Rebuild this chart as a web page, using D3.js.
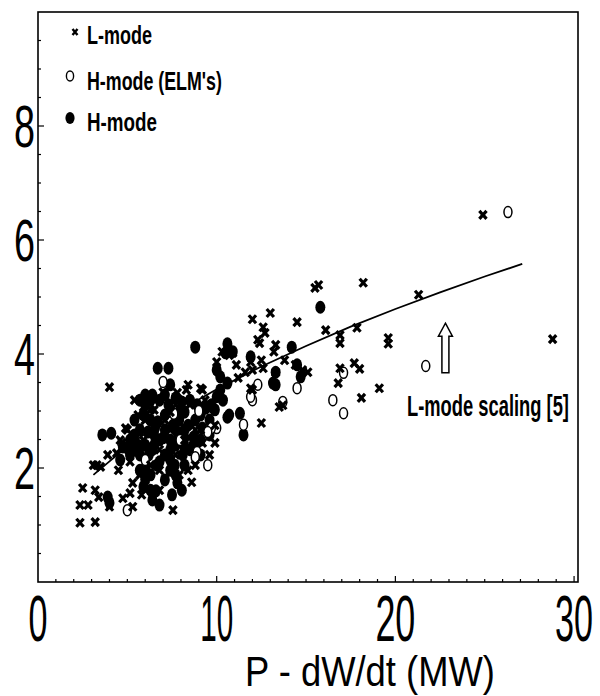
<!DOCTYPE html>
<html>
<head>
<meta charset="utf-8">
<script src="https://cdn.jsdelivr.net/npm/d3@7"></script>
<style>
    body { margin: 0; background: #fff; }
    text { font-family: "Liberation Sans Narrow", "Arial Narrow", "Liberation Sans", sans-serif; fill: #000; }
</style>
</head>
<body>
<svg width="600" height="696"></svg>
<script>
// L-mode points (x = P - dW/dt in MW, y = W)
var lModeX = [24.9, 28.8, 21.3, 18.2, 15.5, 15.7, 13.0, 12.0, 12.6, 12.7, 14.5, 16.1, 17.85, 16.9, 16.9, 19.6, 19.6,
    16.9, 16.8, 17.7, 18.0, 19.1, 18.1, 12.5, 13.7, 12.4, 12.3, 13.3, 13.2, 14.8, 15.1, 14.4, 14.8, 11.9, 12.0, 12.6,
    13.3, 11.9, 12.0, 11.2, 10.5, 10.7, 10.3, 10.9, 10.0, 11.1, 4.0, 5.9, 6.1, 7.0, 7.8, 8.3, 9.1, 9.2, 8.4, 4.9, 4.7,
    3.9, 4.4, 3.1, 3.3, 3.5, 4.5, 2.5, 3.2, 3.4, 2.8, 4.0, 2.35, 3.2, 5.3, 5.15, 4.75, 5.3, 7.55, 5.8, 8.4, 8.6, 9.2,
    9.9, 9.6, 4.6, 5.0, 5.9, 5.6, 6.0, 6.5, 7.1, 7.7, 8.5, 9.35, 9.6, 9.9, 9.1, 8.2, 7.4, 6.8, 7.7, 6.3, 5.7, 6.8, 7.9,
    8.8, 13.5, 12.5, 13.8, 11.6, 2.35, 5.4, 6.3, 7.4, 8.8, 6.8, 6.0, 5.15];
var lModeY = [6.44, 4.26, 5.04, 5.25, 5.16, 5.21, 4.72, 4.61, 4.47, 4.37, 4.56, 4.42, 4.46, 4.33, 4.19, 4.28, 4.18,
    3.75, 3.49, 3.84, 3.74, 3.40, 3.23, 2.79, 3.10, 4.19, 4.25, 4.16, 4.04, 3.72, 3.68, 3.81, 3.70, 3.86, 3.72, 3.75,
    3.68, 3.40, 3.37, 3.58, 4.02, 3.98, 4.04, 4.02, 3.86, 3.81, 3.42, 3.07, 2.96, 3.33, 3.32, 3.37, 3.40, 3.37, 3.46,
    2.70, 2.44, 2.23, 2.26, 2.05, 2.05, 2.02, 1.96, 1.65, 1.61, 1.49, 1.35, 1.32, 1.04, 1.05, 1.74, 1.56, 1.47, 1.32,
    1.26, 1.53, 1.96, 1.75, 2.44, 2.44, 2.23, 2.49, 2.67, 2.49, 2.93, 2.84, 3.02, 2.84, 3.11, 3.11, 3.19, 3.02, 2.75,
    2.67, 2.49, 2.67, 2.32, 2.23, 2.05, 1.88, 1.61, 1.88, 2.05, 3.07, 3.89, 3.89, 3.68, 1.35, 3.19, 3.02, 2.98, 2.67,
    1.96, 1.79, 2.11];

// H-mode with ELMs (open circles)
var elmX = [26.3, 21.7, 17.1, 16.5, 17.1, 13.7, 14.5, 12.3, 12.0, 10.0, 9.7, 8.9, 9.5, 8.8, 9.5, 7.0, 5.0, 11.9, 11.5,
    6.0, 7.95, 7.6, 9.0];
var elmY = [6.49, 3.79, 3.67, 3.19, 2.96, 3.16, 3.40, 3.46, 3.19, 2.70, 2.70, 2.28, 2.05, 2.19, 2.63, 3.51, 1.26, 3.25,
    2.76, 2.14, 2.49, 2.95, 3.00];

// H-mode (filled circles)
var hModeX = [15.8, 14.2, 8.8, 10.6, 10.5, 6.7, 7.3, 6.4, 7.4, 3.6, 4.1, 10.2, 10.6, 10.0, 10.7, 11.3, 11.5, 10.6, 10.2,
    10.35, 10.9, 11.9, 13.3, 14.5, 14.7, 13.3, 13.15, 10.0, 5.7, 5.9, 6.4, 3.9, 4.0, 7.4, 7.7, 8.2, 7.8, 4.75, 4.6, 6.2,
    6.5, 6.0, 6.8, 7.7, 8.5, 9.35, 6.3, 7.1, 7.9, 8.8, 9.6, 5.7, 6.5, 7.4, 8.2, 9.1, 6.0, 6.8, 7.7, 8.5, 6.3, 8.2, 9.1,
    7.1, 7.8, 8.7, 5.4, 5.15, 5.6, 7.1, 6.65, 8.1, 5.15, 6.0, 6.6,
    5.7, 7.3, 8.05, 8.9, 9.7, 5.9, 6.7, 7.55, 8.4, 9.2, 6.15, 7.0, 7.8, 8.7, 6.4, 7.4, 8.2, 5.7, 6.8, 7.65, 6.3, 7.1,
    8.05, 6.3, 6.8, 7.5, 5.0, 5.4,
    6.0, 7.1, 7.95, 6.55, 8.2, 9.1, 6.0, 7.4, 5.4, 9.6, 9.9];
var hModeY = [4.82, 4.12, 4.12, 4.18, 4.02, 3.75, 3.75, 3.28, 3.46, 2.58, 2.61, 3.60, 3.49, 3.25, 2.93, 2.96, 2.58, 2.89,
    3.37, 3.19, 4.04, 3.95, 3.68, 3.81, 3.60, 3.46, 3.49, 3.72, 1.96, 1.67, 1.44, 1.49, 1.39, 2.14, 1.88, 2.05, 1.74,
    2.37, 2.14, 2.23, 2.40, 3.11, 3.19, 3.23, 3.19, 3.05, 2.84, 2.93, 2.84, 2.84, 2.84, 2.67, 2.58, 2.49, 2.67, 2.49,
    2.40, 2.49, 2.40, 2.32, 3.19, 2.98, 2.93, 2.67, 2.63, 2.54, 2.84, 2.23, 2.40, 2.23, 2.05, 2.23, 2.49, 1.80, 1.60,
    3.19, 3.11, 3.16, 3.11, 3.11, 2.93, 2.81, 2.75, 2.75, 2.70, 2.63, 2.53, 2.49, 2.40, 2.32, 2.32, 2.35, 2.23, 2.11,
    2.05, 1.88, 1.79, 1.61, 1.61, 1.35, 1.53, 2.35, 2.58,
    3.28, 3.28, 3.02, 2.70, 2.53, 2.23, 2.00, 1.96, 2.32, 2.58, 3.02];

// L-mode scaling curve
var fitX = [3.1, 5, 7.5, 10, 12.5, 15, 17.5, 20, 22.5, 25, 27.1];
var fitY = [1.88, 2.38, 2.93, 3.38, 3.78, 4.14, 4.48, 4.79, 5.08, 5.36, 5.58];

var xTicks = [0, 10, 20, 30];
var yTicks = [2, 4, 6, 8];
var legendLabels = ["L-mode", "H-mode (ELM's)", "H-mode"];

var svg = d3.select("svg");

var x = d3.scaleLinear().domain([0, 30.22]).range([38, 578]);
var y = d3.scaleLinear().domain([0, 10]).range([582, 12]);

// squeeze a text horizontally to a given width (the original uses a narrow font)
function squeeze(sel, width) {
    sel.each(function(d, i) {
        var t = d3.select(this);
        var w = typeof width == "function" ? width(d, i) : width;
        var nat = this.getComputedTextLength();
        var x0 = +t.attr("x"), y0 = +t.attr("y");
        t.attr("x", 0).attr("y", 0)
            .attr("transform", "translate(" + x0 + "," + y0 + ") scale(" + (w / nat) + ",1)");
    });
}

// frame
svg.append("rect")
    .attr("x", x(0)).attr("y", y(10))
    .attr("width", x(30.22) - x(0)).attr("height", y(0) - y(10))
    .attr("fill", "none").attr("stroke", "#000").attr("stroke-width", 1.6);

// small ticks pointing inward
svg.append("g").selectAll("line")
    .data(d3.range(1, 31))
    .enter().append("line")
    .attr("x1", function(d) { return x(d); }).attr("x2", function(d) { return x(d); })
    .attr("y1", y(0)).attr("y2", function(d) { return y(0) - (d % 10 == 0 ? 6 : 3); })
    .attr("stroke", "#000").attr("stroke-width", 1.2);

svg.append("g").selectAll("line")
    .data(d3.range(0.5, 10, 0.5))
    .enter().append("line")
    .attr("y1", function(d) { return y(d); }).attr("y2", function(d) { return y(d); })
    .attr("x1", x(0)).attr("x2", function(d) { return x(0) + (d % 2 == 0 ? 6 : 3); })
    .attr("stroke", "#000").attr("stroke-width", 1.2);

// tick labels
var xLabelWidth = { 0: 19, 10: 33, 20: 40, 30: 38 };
svg.append("g").selectAll("text")
    .data(xTicks)
    .enter().append("text")
    .attr("x", function(d) { return Math.min(x(d) - xLabelWidth[d] / 2, 596 - xLabelWidth[d]); })
    .attr("y", 641)
    .attr("font-size", 64)
    .text(function(d) { return d; })
    .call(squeeze, function(d) { return xLabelWidth[d]; });

svg.append("g").selectAll("text")
    .data(yTicks)
    .enter().append("text")
    .attr("x", 14)
    .attr("y", function(d) { return y(d) + 21; })
    .attr("font-size", 60)
    .text(function(d) { return d; })
    .call(squeeze, 21);

svg.append("text")
    .attr("x", 245).attr("y", 686)
    .attr("font-size", 42)
    .text("P - dW/dt (MW)")
    .call(squeeze, 250);

// scaling curve
var line = d3.line()
    .x(function(d) { return x(d[0]); })
    .y(function(d) { return y(d[1]); });

svg.append("path")
    .datum(d3.zip(fitX, fitY))
    .attr("d", line)
    .attr("fill", "none").attr("stroke", "#000").attr("stroke-width", 1.8);

// markers
var crossPath = "M-3.6,-4L3.6,4M3.6,-4L-3.6,4";

svg.append("g").selectAll("ellipse")
    .data(d3.zip(hModeX, hModeY))
    .enter().append("ellipse")
    .attr("cx", function(d) { return x(d[0]); })
    .attr("cy", function(d) { return y(d[1]); })
    .attr("rx", 5).attr("ry", 6.5)
    .attr("fill", "#000");

svg.append("g").selectAll("ellipse")
    .data(d3.zip(elmX, elmY))
    .enter().append("ellipse")
    .attr("cx", function(d) { return x(d[0]); })
    .attr("cy", function(d) { return y(d[1]); })
    .attr("rx", 4).attr("ry", 5.5)
    .attr("fill", "#fff").attr("stroke", "#000").attr("stroke-width", 1.5);

svg.append("g").selectAll("path")
    .data(d3.zip(lModeX, lModeY))
    .enter().append("path")
    .attr("transform", function(d) { return "translate(" + x(d[0]) + "," + y(d[1]) + ")"; })
    .attr("d", crossPath)
    .attr("stroke", "#000").attr("stroke-width", 3.2);

// legend
var legend = svg.append("g");
legend.append("path")
    .attr("transform", "translate(75,32)")
    .attr("d", "M-2.5,-3L2.5,3M2.5,-3L-2.5,3")
    .attr("stroke", "#000").attr("stroke-width", 2.4);
legend.append("ellipse")
    .attr("cx", 70).attr("cy", 76).attr("rx", 3.6).attr("ry", 5)
    .attr("fill", "#fff").attr("stroke", "#000").attr("stroke-width", 1.4);
legend.append("ellipse")
    .attr("cx", 70).attr("cy", 118).attr("rx", 4.6).attr("ry", 6)
    .attr("fill", "#000");

var legendY = [44, 90, 131];
var legendW = [65, 135, 70];
legend.selectAll("text")
    .data(legendLabels)
    .enter().append("text")
    .attr("x", 87)
    .attr("y", function(d, i) { return legendY[i]; })
    .attr("font-size", 25)
    .attr("font-weight", "bold")
    .text(function(d) { return d; })
    .call(squeeze, function(d, i) { return legendW[i]; });

// hollow arrow pointing at the curve
var ax = x(22.8), aTip = y(4.54), aBase = y(3.67);
svg.append("path")
    .attr("d", "M" + ax + "," + aTip +
        "L" + (ax + 7) + "," + (aTip + 13) +
        "L" + (ax + 3.5) + "," + (aTip + 13) +
        "L" + (ax + 3.5) + "," + aBase +
        "L" + (ax - 3.5) + "," + aBase +
        "L" + (ax - 3.5) + "," + (aTip + 13) +
        "L" + (ax - 7) + "," + (aTip + 13) + "Z")
    .attr("fill", "#fff").attr("stroke", "#000").attr("stroke-width", 1.5);

svg.append("text")
    .attr("x", 407).attr("y", 416)
    .attr("font-size", 30)
    .attr("font-weight", "bold")
    .text("L-mode scaling [5]")
    .call(squeeze, 162);
</script>
</body>
</html>
